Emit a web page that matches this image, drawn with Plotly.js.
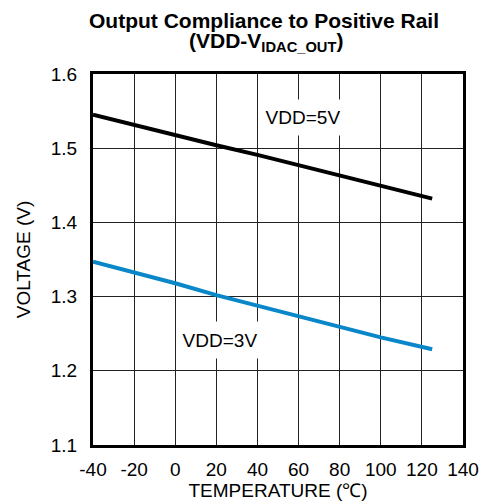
<!DOCTYPE html>
<html>
<head>
<meta charset="utf-8">
<script src="https://cdn.plot.ly/plotly-3.0.1.min.js"></script>
<style>html,body{margin:0;padding:0;background:#fff;}#chart{width:482px;height:504px;}</style>
</head>
<body>
<div id="chart"></div>
<script>
// Data
var temperature = [-40, -20, 0, 20, 40, 60, 80, 100, 125];
var vdd5V = [1.545, 1.531, 1.517, 1.504, 1.491, 1.477, 1.463, 1.449, 1.432];
var vdd3V = [1.347, 1.333, 1.318, 1.302, 1.288, 1.274, 1.260, 1.245, 1.229];
var seriesNames = ["VDD=5V", "VDD=3V"];
var xTicks = [-40, -20, 0, 20, 40, 60, 80, 100, 120, 140];
var xTickText = ["-40", "-20", "0", "20", "40", "60", "80", "100", "120", "140"];
var yTicks = [1.1, 1.2, 1.3, 1.4, 1.5, 1.6];
var yTickText = ["1.1", "1.2", "1.3", "1.4", "1.5", "1.6"];
var labelPos5V = [62, 1.542];
var labelPos3V = [22, 1.2415];

var FONT = "Liberation Sans, Arial, sans-serif";

var traces = [
  {x: temperature, y: vdd5V, name: seriesNames[0], mode: "lines",
   line: {color: "#000000", width: 4}},
  {x: temperature, y: vdd3V, name: seriesNames[1], mode: "lines",
   line: {color: "#0a87c8", width: 4}}
];

var layout = {
  width: 482, height: 504,
  margin: {l: 93, r: 19, t: 74, b: 59, pad: 0},
  paper_bgcolor: "#ffffff", plot_bgcolor: "#ffffff",
  showlegend: false,
  font: {family: FONT, size: 19, color: "#000"},
  xaxis: {
    range: [-40, 140], tickmode: "array", tickvals: xTicks, ticktext: xTickText,
    showgrid: true, gridcolor: "#222222", gridwidth: 1,
    showline: true, mirror: true, linecolor: "#000", linewidth: 3,
    zeroline: false, ticks: "outside", ticklen: 5, tickcolor: "rgba(0,0,0,0)",
    tickfont: {family: FONT, size: 19, color: "#000"},
    title: {text: "TEMPERATURE (\u2103)", font: {family: FONT, size: 19, color: "#000"}, standoff: 0}
  },
  yaxis: {
    range: [1.1, 1.6], tickmode: "array", tickvals: yTicks, ticktext: yTickText,
    showgrid: true, gridcolor: "#222222", gridwidth: 1,
    showline: true, mirror: true, linecolor: "#000", linewidth: 3,
    zeroline: false, ticks: "outside", ticklen: 9, tickcolor: "rgba(0,0,0,0)",
    tickfont: {family: FONT, size: 19, color: "#000"},
    title: {text: "VOLTAGE (V)", font: {family: FONT, size: 19, color: "#000"}, standoff: 16}
  },
  annotations: [
    {xref: "paper", yref: "paper", x: 0.462, y: 1.145, xanchor: "center", yanchor: "middle",
     text: "<b>Output Compliance to Positive Rail</b>", showarrow: false,
     font: {family: FONT, size: 21, color: "#000"}},
    {xref: "paper", yref: "paper", x: 0.4676, y: 1.086, xanchor: "center", yanchor: "middle",
     text: "<b>(VDD-V<sub>IDAC_OUT</sub>)</b>", showarrow: false,
     font: {family: FONT, size: 21, color: "#000"}},
    {xref: "x", yref: "y", x: labelPos5V[0], y: labelPos5V[1], text: seriesNames[0],
     showarrow: false, bgcolor: "#ffffff", width: 86, height: 35, borderpad: 0,
     font: {family: FONT, size: 19, color: "#000"}},
    {xref: "x", yref: "y", x: labelPos3V[0], y: labelPos3V[1], text: seriesNames[1],
     showarrow: false, bgcolor: "#ffffff", width: 86, height: 36, borderpad: 0,
     font: {family: FONT, size: 19, color: "#000"}}
  ]
};

Plotly.newPlot("chart", traces, layout, {displayModeBar: false, staticPlot: true});
</script>
</body>
</html>
